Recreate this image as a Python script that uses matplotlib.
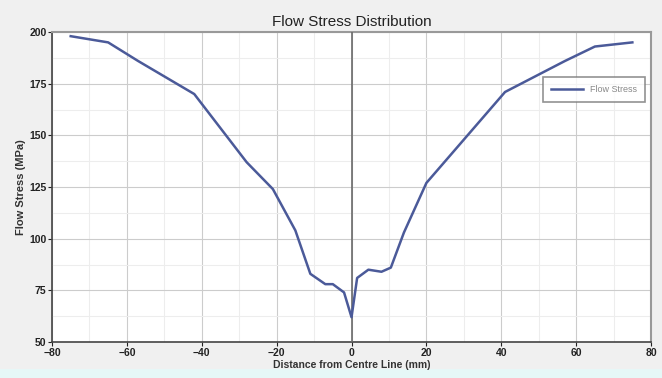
import matplotlib
matplotlib.use("Agg")
import matplotlib.pyplot as plt
from matplotlib.patches import Rectangle
from matplotlib.ticker import MultipleLocator

# distance from centre line (mm) and flow stress (MPa)
dist = [-75, -65, -57, -42, -28, -21, -15, -11, -7, -5, -2, 0,
        1.5, 4.5, 8, 10.5, 14, 20, 41, 57, 65, 75]
stress = [198, 195, 186, 170, 137, 124, 104, 83, 78, 78, 74, 62,
          81, 85, 84, 86, 103, 127, 171, 186, 193, 195]
xticks = [-80, -60, -40, -20, 0, 20, 40, 60, 80]
yticks = [50, 75, 100, 125, 150, 175, 200]

FONT = ["Liberation Sans Narrow", "Liberation Sans", "DejaVu Sans"]
plt.rcParams["font.family"] = FONT

fig = plt.figure(figsize=(6.62, 3.78), dpi=100, facecolor="#f0f0f0")
# pale strip along the bottom edge, kept behind the axes
fig.patches.append(Rectangle((0, 0), 1, 0.024, transform=fig.transFigure,
                             fc="#e6f7f7", ec="none", zorder=-1))

ax = fig.add_axes([0.0785, 0.0952, 0.905, 0.820])
ax.set_facecolor("white")

ax.plot(dist, stress, color="#4b5a99", lw=1.8, label="Flow Stress", zorder=4)

ax.set_xlim(-80, 80)
ax.set_ylim(50, 200)
ax.set_xticks(xticks)
ax.set_yticks(yticks)
ax.xaxis.set_minor_locator(MultipleLocator(10))
ax.yaxis.set_minor_locator(MultipleLocator(12.5))
ax.grid(which="major", color="#cccccc", lw=0.8)
ax.grid(which="minor", color="#ededed", lw=0.8)
ax.axvline(0, color="#6a6a6a", lw=1.2, zorder=3)

ax.tick_params(which="major", length=3, labelsize=7.5, pad=1, colors="#222")
ax.tick_params(which="minor", length=0)
for lab in ax.get_xticklabels() + ax.get_yticklabels():
    lab.set_fontweight("bold")

for side in ["left", "bottom"]:
    ax.spines[side].set_color("#444")
    ax.spines[side].set_linewidth(1.2)
for side in ["top", "right"]:
    ax.spines[side].set_color("#999")
    ax.spines[side].set_linewidth(1.5)

ax.set_xlabel("Distance from Centre Line (mm)", fontsize=7.5,
              fontweight="bold", labelpad=2, color="#333")
ax.set_ylabel("Flow Stress (MPa)", fontsize=8, fontweight="bold",
              labelpad=2, color="#333")
ax.set_title("Flow Stress Distribution", fontsize=11, pad=4, color="#222")

leg = ax.legend(loc="upper right", bbox_to_anchor=(0.99, 0.855),
                borderaxespad=0, fontsize=6.5, frameon=True, fancybox=False,
                handlelength=3.5, borderpad=0.9, labelcolor="#888")
leg.get_frame().set_edgecolor("#777")
leg.get_frame().set_linewidth(1.2)

fig.savefig("out.png", dpi=100, facecolor=fig.get_facecolor())
